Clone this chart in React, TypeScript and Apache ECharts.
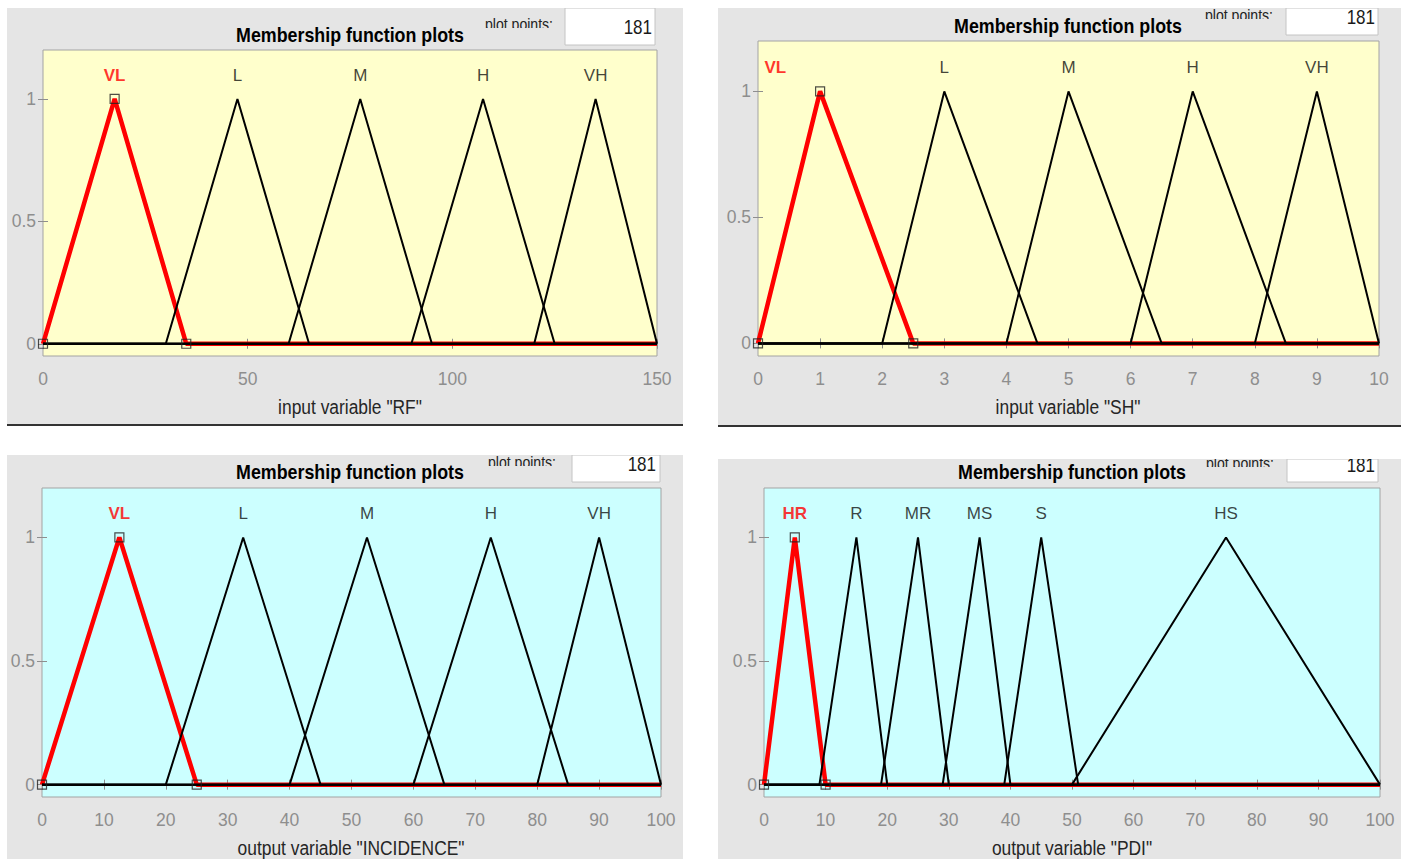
import React, { useEffect, useRef } from "react";
import * as echarts from "echarts";

const FONT = '"Liberation Sans", Arial, sans-serif';

// ---- data ----
const rfNames = ["VL", "L", "M", "H", "VH"];
const rfParams = [[0, 17.5, 35], [30, 47.5, 65], [60, 77.5, 95], [90, 107.5, 125], [120, 135, 150]];
const rfLabelX = [17.5, 47.5, 77.5, 107.5, 135];

const shNames = ["VL", "L", "M", "H", "VH"];
const shParams = [[0, 1, 2.5], [2, 3, 4.5], [4, 5, 6.5], [6, 7, 8.5], [8, 9, 10]];
const shLabelX = [0.28, 3, 5, 7, 9];

const incNames = ["VL", "L", "M", "H", "VH"];
const incParams = [[0, 12.5, 25], [20, 32.5, 45], [40, 52.5, 65], [60, 72.5, 85], [80, 90, 100]];
const incLabelX = [12.5, 32.5, 52.5, 72.5, 90];

const pdiNames = ["HR", "R", "MR", "MS", "S", "HS"];
const pdiParams = [[0, 5, 10], [9, 15, 20], [19, 25, 30], [29, 35, 40], [39, 45, 51], [50, 75, 100]];
const pdiLabelX = [5, 15, 25, 35, 45, 75];

const yTicks = [0, 0.5, 1];
const plotPoints = "181";
const titleText = "Membership function plots";

const panelsData = [
  { names: rfNames, params: rfParams, labelX: rfLabelX, max: 150, interval: 50, axisName: 'input variable "RF"', color: "#ffffcc" },
  { names: shNames, params: shParams, labelX: shLabelX, max: 10, interval: 1, axisName: 'input variable "SH"', color: "#ffffcc" },
  { names: incNames, params: incParams, labelX: incLabelX, max: 100, interval: 10, axisName: 'output variable "INCIDENCE"', color: "#ccffff" },
  { names: pdiNames, params: pdiParams, labelX: pdiLabelX, max: 100, interval: 10, axisName: 'output variable "PDI"', color: "#ccffff" },
];

// ---- layout (pixels) ----
const layout = [
  { bg: [7, 8, 676, 416], rule: [7, 424, 676], grid: [43, 50, 614, 306], title: [350, 34], pp: [519, 28, 70], box: [565, 8, 90, 37], num: [652, 27], name: [350, 407] },
  { bg: [718, 8, 683, 417], rule: [718, 425, 683], grid: [758, 41, 621, 315], title: [1068, 25], pp: [1239, 19, 72], box: [1286, 8, 92, 27], num: [1375, 17], name: [1068, 407] },
  { bg: [7, 455, 676, 404], rule: null, grid: [42, 488, 619, 309], title: [350, 471], pp: [522, 466, 72], box: [572, 455, 88, 27], num: [656, 464], name: [351, 848] },
  { bg: [718, 459, 683, 400], rule: null, grid: [764, 488, 616, 309], title: [1072, 471], pp: [1240, 467, 70], box: [1287, 459, 91, 23], num: [1375, 465], name: [1072, 848] },
];

const GRAY = "#e5e5e5";
const TICK_GRAY = "#8e8e8e";

function txt(x: number, y: number, text: string, font: string, fill: string, align: string, vAlign: string, scaleX: number, z = 100) {
  return {
    type: "text", z, x, y, scaleX, scaleY: 1,
    style: { text, fill, font, align, verticalAlign: vAlign, textAlign: align, textVerticalAlign: vAlign },
  };
}

function buildOption() {
  const grid: any[] = [];
  const xAxis: any[] = [];
  const yAxis: any[] = [];
  const series: any[] = [];
  const graphic: any[] = [];

  panelsData.forEach((p, i) => {
    const L = layout[i];
    grid.push({
      left: L.grid[0], top: L.grid[1], width: L.grid[2], height: L.grid[3],
      show: true, backgroundColor: p.color, borderColor: "#a3a3a3", borderWidth: 1,
    });
    const xBase = {
      gridIndex: i, type: "value", min: 0, max: p.max, interval: p.interval,
      axisLine: { show: false }, splitLine: { show: false },
      axisTick: { show: true, inside: true, length: 5, lineStyle: { color: TICK_GRAY, width: 1 } },
    };
    xAxis.push({
      ...xBase, position: "bottom",
      axisLabel: { show: true, margin: 14, color: TICK_GRAY, fontSize: 17.5, fontFamily: FONT },
    });
    xAxis.push({ ...xBase, position: "top", axisLabel: { show: false } });
    const yBase = {
      gridIndex: i, type: "value", min: -0.05, max: 1.2,
      axisLine: { show: false }, splitLine: { show: false },
      axisTick: { show: true, inside: true, length: 5, customValues: yTicks, lineStyle: { color: TICK_GRAY, width: 1 } },
    };
    yAxis.push({
      ...yBase, position: "left",
      axisLabel: { show: true, customValues: yTicks, margin: 7, color: TICK_GRAY, fontSize: 17.5, fontFamily: FONT, formatter: (v: number) => String(v) },
    });
    yAxis.push({ ...yBase, position: "right", axisLabel: { show: false } });

    const xi = 2 * i;
    const yi = 2 * i;
    p.params.forEach((prm, j) => {
      const data = [[0, 0], [prm[0], 0], [prm[1], 1], [prm[2], 0], [p.max, 0]];
      series.push({
        type: "line", xAxisIndex: xi, yAxisIndex: yi, data, symbol: "none", silent: true,
        lineStyle: { color: j === 0 ? "#ff0000" : "#000000", width: j === 0 ? 4.5 : 2 },
        z: j === 0 ? 2 : 3,
      });
    });
    const sel = p.params[0];
    series.push({
      type: "scatter", xAxisIndex: xi, yAxisIndex: yi, silent: true, clip: false,
      data: [[sel[0], 0], [sel[1], 1], [sel[2], 0]],
      symbol: "rect", symbolSize: 9,
      itemStyle: { color: "rgba(0,0,0,0)", borderColor: "#222", borderWidth: 1.2 }, z: 5,
    });
    series.push({
      type: "scatter", xAxisIndex: xi, yAxisIndex: yi, silent: true, clip: false,
      symbolSize: 1, itemStyle: { color: "rgba(0,0,0,0)" },
      data: p.names.map((n, j) => ({
        value: [p.labelX[j], 1.095], name: n,
        label: { color: j === 0 ? "#ff0000" : "#111111", fontWeight: j === 0 ? "bold" : "normal" },
      })),
      label: { show: true, position: "inside", formatter: "{b}", fontSize: 17, fontFamily: FONT },
      z: 6,
    });

    // backgrounds
    graphic.push({ type: "rect", z: -10, shape: { x: L.bg[0], y: L.bg[1], width: L.bg[2], height: L.bg[3] }, style: { fill: GRAY } });
    if (L.rule) {
      graphic.push({ type: "rect", z: -9, shape: { x: L.rule[0], y: L.rule[1], width: L.rule[2], height: 2 }, style: { fill: "#333333" } });
    }
    // title
    graphic.push(txt(L.title[0], L.title[1], titleText, `bold 21px ${FONT}`, "#000", "center", "middle", 0.85));
    // axis name
    graphic.push(txt(L.name[0], L.name[1], p.axisName, `20px ${FONT}`, "#262626", "center", "middle", 0.87));
    // plot points label (clipped at baseline)
    graphic.push(txt(L.pp[0], L.pp[1] + 4, "plot points:", `16px ${FONT}`, "#222", "center", "bottom", 0.88));
    graphic.push({ type: "rect", z: 150, shape: { x: L.pp[0] - L.pp[2] / 2, y: L.pp[1], width: L.pp[2], height: 6 }, style: { fill: GRAY } });
    // value box
    graphic.push({ type: "rect", z: 90, shape: { x: L.box[0], y: L.box[1], width: L.box[2], height: L.box[3] }, style: { fill: "#ffffff", stroke: "#c4c4c4", lineWidth: 1 } });
    graphic.push(txt(L.num[0], L.num[1], plotPoints, `20px ${FONT}`, "#1a1a1a", "right", "middle", 0.85));
  });

  // white crop masks above panels
  graphic.push({ type: "rect", z: 200, shape: { x: 0, y: 0, width: 1405, height: 8 }, style: { fill: "#ffffff" } });
  graphic.push({ type: "rect", z: 200, shape: { x: 0, y: 427, width: 1405, height: 28 }, style: { fill: "#ffffff" } });
  graphic.push({ type: "rect", z: 200, shape: { x: 700, y: 427, width: 705, height: 32 }, style: { fill: "#ffffff" } });

  return {
    animation: false,
    backgroundColor: "#ffffff",
    grid, xAxis, yAxis, series, graphic,
  };
}

export default function App() {
  const ref = useRef<HTMLDivElement>(null);
  useEffect(() => {
    if (!ref.current) return;
    const chart = echarts.init(ref.current, undefined, { renderer: "svg" });
    chart.setOption(buildOption() as any);
    return () => chart.dispose();
  }, []);
  return <div ref={ref} style={{ position: "absolute", left: 0, top: 0, width: 1405, height: 859 }} />;
}
